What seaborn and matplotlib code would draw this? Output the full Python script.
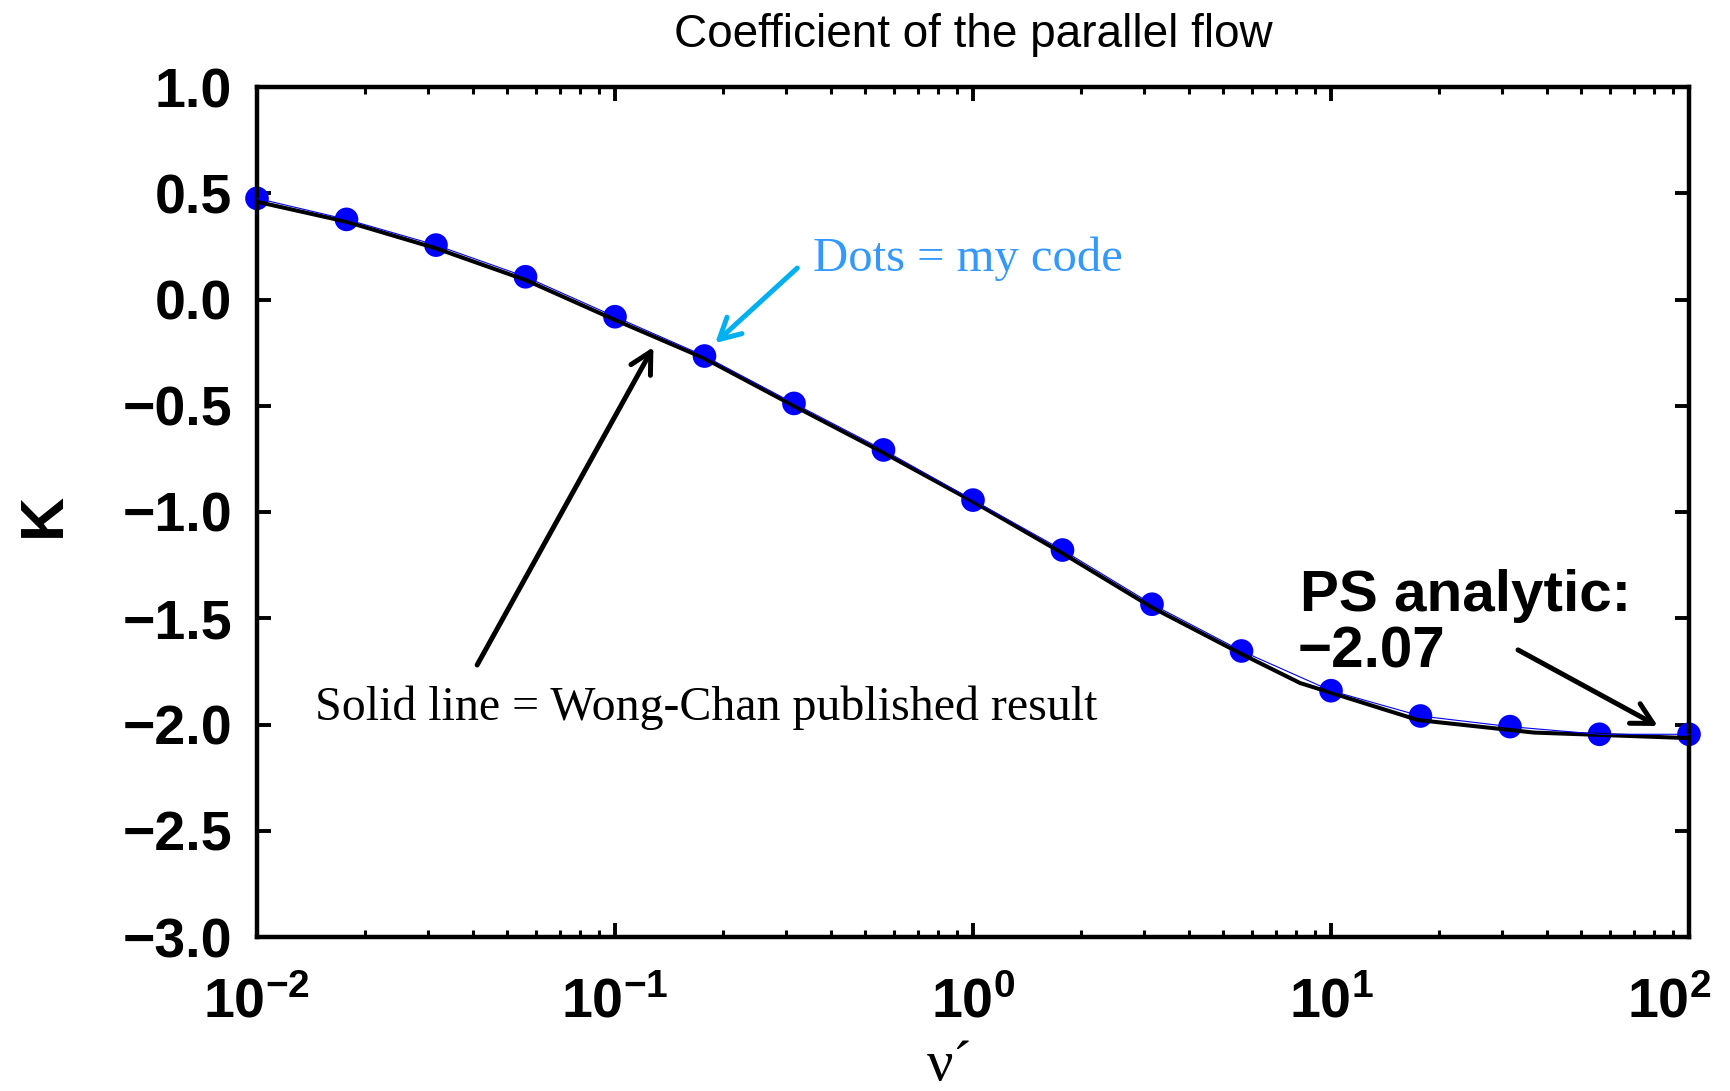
import matplotlib
matplotlib.use("Agg")
import matplotlib.pyplot as plt
import matplotlib.transforms as mtransforms
import seaborn as sns
import pandas as pd

# Collision frequency nu' (quarter-decade grid) and K from my code
nu_code = [0.01, 0.01778, 0.03162, 0.05623, 0.1, 0.1778, 0.3162, 0.5623,
           1.0, 1.778, 3.162, 5.623, 10.0, 17.78, 31.62, 56.23, 100.0]
k_code = [0.476, 0.377, 0.256, 0.107, -0.081, -0.266, -0.489, -0.708,
          -0.944, -1.179, -1.434, -1.654, -1.841, -1.960, -2.010, -2.046, -2.046]

# Wong-Chan published curve
nu_wc = [0.01, 0.01778, 0.03162, 0.05623, 0.1, 0.1778, 0.3162, 0.5623,
         1.0, 1.778, 3.162, 5.623, 8.2, 17.5, 36.9, 100.0]
k_wc = [0.460, 0.366, 0.241, 0.092, -0.096, -0.277, -0.501, -0.721,
        -0.951, -1.194, -1.449, -1.668, -1.805, -1.979, -2.038, -2.064]

x_ticks = [0.01, 0.1, 1, 10, 100]
x_tick_labels = [r"$\mathbf{10^{-2}}$", r"$\mathbf{10^{-1}}$", r"$\mathbf{10^{0}}$",
                 r"$\mathbf{10^{1}}$", r"$\mathbf{10^{2}}$"]
y_ticks = [1.0, 0.5, 0.0, -0.5, -1.0, -1.5, -2.0, -2.5, -3.0]
y_tick_labels = ["1.0", "0.5", "0.0", "\u22120.5", "\u22121.0", "\u22121.5",
                 "\u22122.0", "\u22122.5", "\u22123.0"]

df_code = pd.DataFrame({"nu": nu_code, "K": k_code})
df_wc = pd.DataFrame({"nu": nu_wc, "K": k_wc})

sns.set_style("ticks")
plt.rcParams["font.family"] = ["Liberation Sans", "DejaVu Sans"]
plt.rcParams["text.color"] = "black"
plt.rcParams["axes.labelcolor"] = "black"
plt.rcParams["xtick.color"] = "black"
plt.rcParams["ytick.color"] = "black"
plt.rcParams["mathtext.fontset"] = "custom"
plt.rcParams["mathtext.rm"] = "Liberation Sans"
plt.rcParams["mathtext.bf"] = "Liberation Sans:bold"
plt.rcParams["mathtext.it"] = "Liberation Sans:italic"

W, H = 1731, 1091
fig = plt.figure(figsize=(W / 100, H / 100), dpi=100)
left, right, top, bottom = 257, 1689, 87, 937
ax = fig.add_axes([left / W, 1 - bottom / H, (right - left) / W, (bottom - top) / H])

sns.scatterplot(data=df_code, x="nu", y="K", ax=ax, color="#0000FF", s=290,
                edgecolor="none", zorder=2, clip_on=False, legend=False)
sns.lineplot(data=df_wc, x="nu", y="K", ax=ax, color="black", linewidth=2.9,
             zorder=3, legend=False)
sns.lineplot(data=df_code, x="nu", y="K", ax=ax, color="#0000FF", linewidth=0.8,
             zorder=4, legend=False)

ax.set_xscale("log")
ax.set_xlim(0.01, 100)
ax.set_ylim(-3.0, 1.0)
ax.set_xticks(x_ticks)
ax.set_xticklabels(x_tick_labels)
ax.set_yticks(y_ticks)
ax.set_yticklabels(y_tick_labels)
for lab in ax.get_yticklabels():
    lab.set_fontweight("bold")
ax.set_xlabel("")
ax.set_ylabel("")

for sp in ax.spines.values():
    sp.set_linewidth(3.2)
    sp.set_color("black")
    sp.set_visible(True)

ax.tick_params(axis="both", which="major", direction="in", length=10, width=2.8,
               top=True, right=True, labelsize=40, colors="black")
ax.tick_params(axis="x", which="minor", direction="in", length=5, width=2.2,
               top=True, bottom=True, colors="black")
ax.tick_params(axis="y", which="major", pad=18)
ax.tick_params(axis="x", which="major", pad=29)
ax.tick_params(axis="y", which="minor", left=False, right=False)

# keep the last decade label inside the canvas
last = ax.get_xticklabels()[-1]
last.set_transform(last.get_transform() +
                   mtransforms.ScaledTranslation(-20 / 100, 0, fig.dpi_scale_trans))

ax.set_title("Coefficient of the parallel flow", fontsize=33, pad=29,
             fontfamily="Liberation Sans", color="black")

# Axis labels
fig.text(44 / W, 1 - 515 / H, "K", rotation=90, ha="center", va="center",
         fontsize=44, fontweight="bold", fontfamily="Liberation Sans", color="black")
fig.text(950 / W, 1 - 1080 / H, "\u03bd\u00b4", ha="center", va="baseline",
         fontsize=42, fontfamily="Liberation Serif", color="black")

# Annotations
arrow_kw = dict(arrowstyle="->,head_length=15,head_width=8", lw=3.6,
                shrinkA=0, shrinkB=0, mutation_scale=1)

ax.annotate("", xy=(0.1905, -0.205), xytext=(0.323, 0.148),
            arrowprops=dict(color="#00B0F0", **arrow_kw))
ax.text(0.357, 0.136, "Dots = my code", color="#3399FF", fontsize=35,
        fontfamily="Liberation Serif", va="baseline", ha="left")

ax.annotate("", xy=(0.128, -0.224), xytext=(0.0412, -1.72),
            arrowprops=dict(color="black", **arrow_kw))
ax.text(0.01452, -1.979, "Solid line = Wong-Chan published result", color="black",
        fontsize=34.5, fontfamily="Liberation Serif", va="baseline", ha="left")

ax.annotate("", xy=(81.8, -2.007), xytext=(33.3, -1.649),
            arrowprops=dict(color="black", **arrow_kw))
ax.text(8.18, -1.464, "PS analytic:", fontsize=42, fontweight="bold",
        va="baseline", ha="left", color="black")
ax.text(8.05, -1.734, "\u22122.07", fontsize=42, fontweight="bold",
        va="baseline", ha="left", color="black")

fig.savefig("out.png", dpi=100, facecolor="white")
